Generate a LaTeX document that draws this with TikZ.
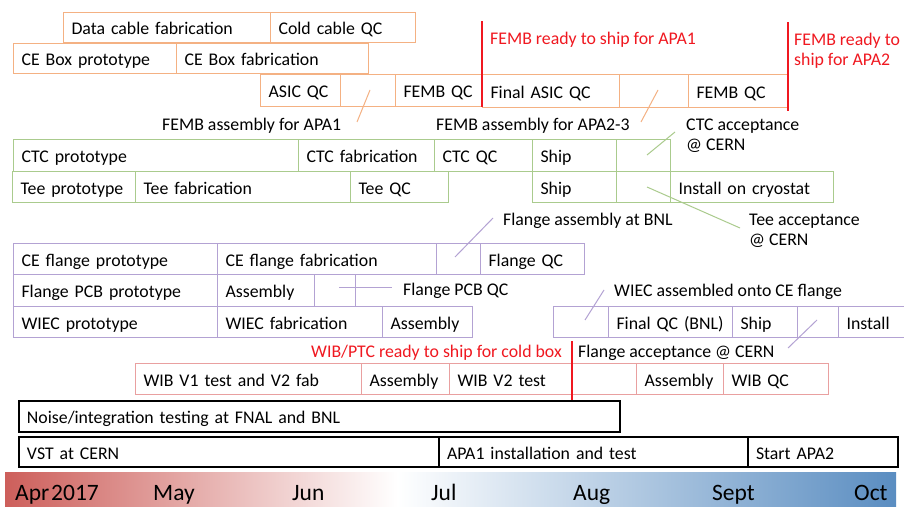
\documentclass[tikz,border=0pt]{standalone}
\usepackage{fontspec}
\setmainfont{Carlito}
\definecolor{corange}{HTML}{F4B183}
\definecolor{cgreen}{HTML}{AACB8D}
\definecolor{cpurple}{HTML}{B3A2D3}
\definecolor{cpink}{HTML}{E9A0A0}
\definecolor{cred}{HTML}{F01820}
\definecolor{tred}{HTML}{CD5F5B}
\definecolor{tblue}{HTML}{5A8DC1}
\pgfdeclarehorizontalshading{tline}{100bp}{color(0bp)=(tred); color(25bp)=(tred); color(47bp)=(white); color(75bp)=(tblue); color(100bp)=(tblue)}
\newcommand{\bx}[7]{%
  \pgfmathsetmacro{\bxw}{#5-#3}%
  \pgfmathsetmacro{\bxh}{#6-#4}%
  \pgfmathsetmacro{\bxt}{#5-#3-16}%
  \node[#1, minimum width=\bxw pt, minimum height=\bxh pt, text width=\bxt pt] (#2) at (#3,#4) {\mbox{#7}};}
\tikzset{
  boxbase/.style={rectangle, line width=1.1pt, anchor=north west, inner xsep=8pt, inner ysep=0pt, align=left, text height=17pt, text depth=3pt, font=\fontsize{17.8}{20}\selectfont, text=black},
  obox/.style={boxbase, draw=corange},
  gbox/.style={boxbase, draw=cgreen},
  pbox/.style={boxbase, draw=cpurple},
  rbox/.style={boxbase, draw=cpink},
  kbox/.style={boxbase, draw=black, line width=2pt},
  lbl/.style={anchor=base west, inner sep=0pt, align=left, font=\fontsize{17.8}{19.5}\selectfont},
  rlbl/.style={lbl, text=cred},
  lead/.style={line width=1pt},
  redline/.style={draw=cred, line width=1.5pt},
  mlbl/.style={anchor=base west, inner sep=0pt, font=\fontsize{23.5}{25}\selectfont},
}
\begin{document}
\begin{tikzpicture}[x=1pt,y=-1pt]
\useasboundingbox (0,0) rectangle (904,506);
\fill[white] (0,0) rectangle (904,506);
% orange
\bx{obox}{o1}{63}{12}{270}{42}{Data cable fabrication}
\bx{obox}{o2}{270}{12}{415}{42}{Cold cable QC}
\bx{obox}{o3}{13}{43}{176}{73}{CE Box prototype}
\bx{obox}{o4}{176}{43}{368}{73}{CE Box fabrication}
\bx{obox}{o5}{260}{74}{340}{106}{ASIC QC}
\bx{obox}{o6}{340}{74}{395}{106}{}
\bx{obox}{o7}{395}{74}{482}{106}{FEMB QC}
\bx{obox}{o8}{482}{74}{619}{107}{Final ASIC QC}
\bx{obox}{o9}{619}{74}{688}{107}{}
\bx{obox}{o10}{688}{74}{788}{107}{FEMB QC}
% red milestones top
\coordinate (m1a) at (482,21); \coordinate (m1b) at (482,107);
\coordinate (m2a) at (788,22); \coordinate (m2b) at (788,111);
\draw[redline] (m1a) -- (m1b);
\draw[redline] (m2a) -- (m2b);
\node[rlbl] (t1) at (490,44) {FEMB ready to ship for APA1};
\node[rlbl] (t2) at (794,65) {FEMB ready to\\ship for APA2};
% orange leaders
\node[lbl] (t3) at (162,130) {FEMB assembly for APA1};
\node[lbl] (t4) at (436,130) {FEMB assembly for APA2-3};
\coordinate (l1a) at (370,90); \coordinate (l1b) at (357,122);
\coordinate (l2a) at (658,90); \coordinate (l2b) at (641,122);
\draw[lead, corange] (l1a) -- (l1b);
\draw[lead, corange] (l2a) -- (l2b);
% green
\bx{gbox}{g1}{13}{139}{298}{171}{CTC prototype}
\bx{gbox}{g2}{298}{139}{434}{171}{CTC fabrication}
\bx{gbox}{g3}{434}{139}{532}{171}{CTC QC}
\bx{gbox}{g4}{532}{139}{616}{171}{Ship}
\bx{gbox}{g5}{616}{139}{670}{171}{}
\bx{gbox}{g6}{12}{171}{135}{202}{Tee prototype}
\bx{gbox}{g7}{135}{171}{350}{202}{Tee fabrication}
\bx{gbox}{g8}{350}{171}{448}{202}{Tee QC}
\bx{gbox}{g9}{532}{171}{616}{202}{Ship}
\bx{gbox}{g10}{616}{171}{670}{202}{}
\bx{gbox}{g11}{670}{171}{833}{202}{Install on cryostat}
\node[lbl] (t5) at (686,150) {CTC acceptance\\@ CERN};
\node[lbl] (t6) at (749,245) {Tee acceptance\\@ CERN};
\coordinate (l3a) at (647,155); \coordinate (l3b) at (675,132);
\coordinate (l4a) at (647,187); \coordinate (l4b) at (740,228);
\draw[lead, cgreen] (l3a) -- (l3b);
\draw[lead, cgreen] (l4a) -- (l4b);
% purple
\bx{pbox}{p1}{13}{243}{217}{274}{CE flange prototype}
\bx{pbox}{p2}{217}{243}{436}{274}{CE flange fabrication}
\bx{pbox}{p3}{436}{243}{480}{274}{}
\bx{pbox}{p4}{480}{243}{584}{274}{Flange QC}
\bx{pbox}{p5}{13}{274}{217}{306}{Flange PCB prototype}
\bx{pbox}{p6}{217}{274}{314}{306}{Assembly}
\bx{pbox}{p7}{314}{274}{355}{306}{}
\bx{pbox}{p8}{13}{306}{217}{337}{WIEC prototype}
\bx{pbox}{p9}{217}{306}{382}{337}{WIEC fabrication}
\bx{pbox}{p10}{382}{306}{472}{337}{Assembly}
\bx{pbox}{p11}{553}{306}{608}{337}{}
\bx{pbox}{p12}{608}{306}{732}{337}{Final QC (BNL)}
\bx{pbox}{p13}{732}{306}{797}{337}{Ship}
\bx{pbox}{p14}{797}{306}{838}{337}{}
\bx{pbox}{p15}{838}{306}{912}{337}{Install}
\node[lbl] (t7) at (503,225) {Flange assembly at BNL};
\node[lbl] (t8) at (403,295) {Flange PCB QC};
\node[lbl] (t9) at (614,296) {WIEC assembled onto CE flange};
\node[lbl] (t10) at (578,357) {Flange acceptance @ CERN};
\coordinate (l5a) at (455,257); \coordinate (l5b) at (493,218);
\coordinate (l6a) at (339,287); \coordinate (l6b) at (392,287);
\coordinate (l7a) at (585,320); \coordinate (l7b) at (604,290);
\coordinate (l8a) at (788,348); \coordinate (l8b) at (817,320);
\draw[lead, cpurple] (l5a) -- (l5b);
\draw[lead, cpurple] (l6a) -- (l6b);
\draw[lead, cpurple] (l7a) -- (l7b);
\draw[lead, cpurple] (l8a) -- (l8b);
% pink
\bx{rbox}{r1}{135}{363}{361}{394}{WIB V1 test and V2 fab}
\bx{rbox}{r2}{361}{363}{449}{394}{Assembly}
\bx{rbox}{r3}{449}{363}{636}{394}{WIB V2 test}
\bx{rbox}{r4}{636}{363}{723}{394}{Assembly}
\bx{rbox}{r5}{723}{363}{828}{394}{WIB QC}
\node[rlbl] (t11) at (311,357) {WIB/PTC ready to ship for cold box};
\coordinate (m3a) at (572,341); \coordinate (m3b) at (572,400);
\draw[redline] (m3a) -- (m3b);
% black
\bx{kbox}{k1}{18}{400}{619}{431}{Noise/integration testing at FNAL and BNL}
\bx{kbox}{k2}{18}{436}{438}{466}{VST at CERN}
\bx{kbox}{k3}{438}{436}{747}{466}{APA1 installation and test}
\bx{kbox}{k4}{747}{436}{897}{466}{Start APA2}
% timeline
\node[shade, shading=tline, anchor=north west, minimum width=891pt, minimum height=34pt, inner sep=0pt] (bar) at (5,472) {};
\node[mlbl] (mo1) at (15,500) {\spaceskip=0.08em Apr 2017};
\node[mlbl] (mo2) at (153,500) {May};
\node[mlbl] (mo3) at (292,500) {Jun};
\node[mlbl] (mo4) at (431,500) {Jul};
\node[mlbl] (mo5) at (573,500) {Aug};
\node[mlbl] (mo6) at (712,500) {Sept};
\node[mlbl] (mo7) at (854,500) {Oct};
\end{tikzpicture}
\end{document}
